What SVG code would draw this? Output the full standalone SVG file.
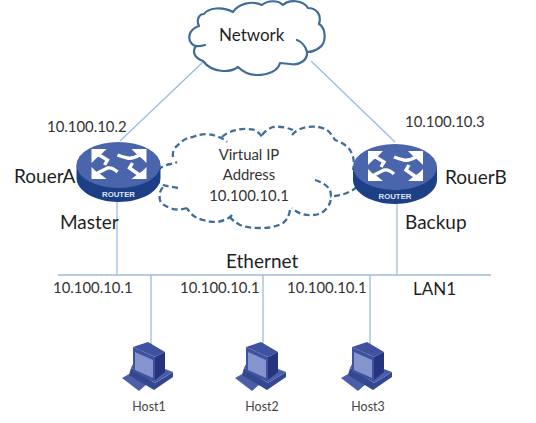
<svg xmlns="http://www.w3.org/2000/svg" width="536" height="423" viewBox="0 0 536 423">
<style>
text{font-family:Lato,"Open Sans","Liberation Sans",sans-serif;fill:#1f1f1f}
.lb{font-size:19px}
.lc{font-size:17px}
.ip{font-size:14.9px;fill:#333}
.h{font-size:12.4px;fill:#444;text-anchor:middle}
.link{stroke:#9dbcdd;stroke-width:1.3;fill:none}
.cl{fill:none;stroke:#3f6d99;stroke-width:2.2;stroke-linecap:round;stroke-linejoin:round}
.d{fill:none;stroke:#3f6d99;stroke-width:2.3;stroke-dasharray:6 3.5;stroke-linejoin:round}
.ar{fill:none;stroke:#fff;stroke-width:3.4}
</style>
<defs>
<g id="router">
<path d="M-42 0V13C-42 26-23 37 0 37S42 26 42 13V0Z" fill="#1c3f85"/>
<ellipse cx="0" cy="0" rx="42" ry="23" fill="#4b65ad"/>
<path class="ar" d="M-21-11L-11-5L-14 0M21-10Q14-6 9-7Q4-8-1-10M-21 8Q-15 5-11 3Q-6 2-1 7M21 10L11 3L14-2"/>
<path d="M-27-16H-12L-17-11L-23-6L-27-2ZM28-16H13L18-11L24-6L28-2ZM-27 14V2L-23 6L-17 10L-12 14ZM28 14V2L24 6L18 10L13 14Z" fill="#fff"/>
<text x="0" y="32" text-anchor="middle" style="font:bold 7.8px 'Liberation Sans',sans-serif;fill:#dfe5f2">ROUTER</text>
</g>
<g id="host">
<path d="M-27 13L-18 8L-2 19L-10 26Z" fill="#4b5ea8"/>
<path d="M-18 3L6 18L24 7V12L5 25L-20 10Z" fill="#34478f"/>
<path d="M-18 3L-16 -1L6 10L16 4L24 7L6 18Z" fill="#4b5ea8"/>
<path d="M-16-18L-1-23L16-13L6-8Z" fill="#3f52a0"/>
<path d="M-16-18L6-8V17L-16 7Z" fill="#3f52a0"/>
<path d="M-14-13L4-5V13L-14 5Z" fill="#8594cc"/>
<path d="M6-8L16-13V7L6 15Z" fill="#26347f"/>
</g>
</defs>
<g id="connectors">
<path class="link" d="M203 62L120 141M311 61L395 142M117 200V275M397 202V275M58 275H491M151 275V345M263 275V345M370 275V345"/>
</g>
<g id="network">
<path class="cl" d="M205 45C198 47 193 47 190 41C188 36 190 29 199 26C196 20 199 14 204 14C208 8 222 6 233 12C238 4 252 0 262 5C268 0 278 0 283 5C289-1 303 0 308 8C316 8 322 14 319 24C326 28 327 43 319 48C315 51 311 52 307 52C306 47 302 42 297 40M307 52C308 60 299 66 290 64L280 63C278 71 268 75 257 75C249 75 243 72 238 67C230 73 212 73 203 61C194 58 192 51 196 46"/>
<text class="lc" x="219" y="41">Network</text>
</g>
<g id="virtual-ip">
<path class="d" d="M158 170C165 163 172 165 177 162M173 157C172 151 175 147 178 145C183 140 188 137 193 137C202 133 208 134 213 135C220 137 224 139 227 142"/>
<path class="d" d="M222 137C226 133 232 131 237 130C243 128 250 129 255 130C258 132 261 135 262 137"/>
<path class="d" d="M262 135C266 130 270 128 273 127C280 126 288 128 293 130"/>
<path class="d" d="M292 135C296 130 302 128 307 127C315 126 322 127 327 130C331 133 333 137 335 140C342 142 347 146 350 150C353 155 355 161 353 170"/>
<path class="d" d="M357 187C352 191 346 194 340 195L330 197M315 180C322 182 328 186 330 190C332 197 331 203 327 208C323 213 318 215 313 215C305 216 297 213 292 208"/>
<path class="d" d="M290 210C289 216 287 220 283 223C276 227 268 228 260 228C252 228 245 227 240 225C235 222 232 220 230 217"/>
<path class="d" d="M232 215C229 219 223 221 217 222C209 222 202 220 197 218C192 215 189 212 187 208"/>
<path class="d" d="M187 208C181 210 175 210 170 208C165 206 161 204 160 200C159 195 160 190 163 187"/>
<path class="d" d="M178 188C172 187 167 186 163 185L158 182"/>
<text class="ip" text-anchor="middle" x="249" y="160">Virtual IP</text>
<text class="ip" text-anchor="middle" x="249" y="180">Address</text>
<text class="ip" text-anchor="middle" x="249" y="201">10.100.10.1</text>
</g>
<g id="router-a">
<use href="#router" x="118.500" y="165"/>
<text class="ip" x="47" y="132">10.100.10.2</text>
<text class="lb" x="14" y="183">RouerA</text>
<text class="lb" x="60" y="229">Master</text>
</g>
<g id="router-b">
<use href="#router" x="395" y="167"/>
<text class="ip" x="405" y="127">10.100.10.3</text>
<text class="lb" x="445" y="184">RouerB</text>
<text class="lb" x="405" y="229">Backup</text>
</g>
<g id="ethernet">
<text class="lb" x="226" y="268">Ethernet</text>
<text class="ip" x="53" y="293">10.100.10.1</text>
<text class="ip" x="180" y="293">10.100.10.1</text>
<text class="ip" x="287" y="293">10.100.10.1</text>
<text class="lc" x="413" y="295">LAN1</text>
</g>
<g id="host1"><use href="#host" x="149" y="365"/><text class="h" x="149" y="411">Host1</text></g>
<g id="host2"><use href="#host" x="262" y="365"/><text class="h" x="262" y="411">Host2</text></g>
<g id="host3"><use href="#host" x="368" y="365"/><text class="h" x="368" y="411">Host3</text></g>
</svg>
